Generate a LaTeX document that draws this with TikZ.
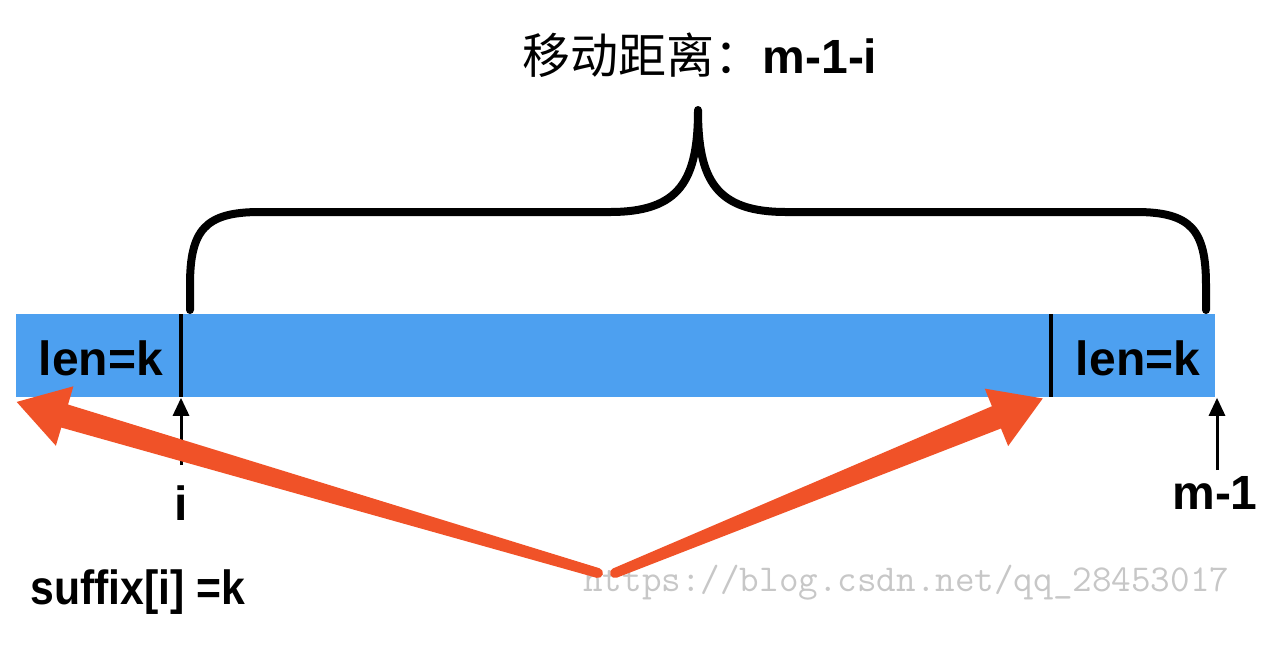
\documentclass[tikz,border=0pt]{standalone}
\usepackage{fontspec}
\setmainfont{Liberation Sans}
\newfontfamily\cjk{Noto Sans CJK SC}
\newfontfamily\narrowsans[FakeStretch=0.89]{Liberation Sans}
\usetikzlibrary{arrows.meta}
\definecolor{barblue}{RGB}{77,160,240}
\definecolor{hintred}{RGB}{240,82,40}
% tapered red arrow: tail, angle, length
\newcommand{\hintarrow}[3]{%
  \fill[hintred,shift={#1},rotate=#2] (0,-5) -- ({#3-50},-12) -- ({#3-50},-31) -- (#3,0)
    -- ({#3-50},31) -- ({#3-50},12) -- (0,5) arc[start angle=90,end angle=270,radius=5] -- cycle;
}

\begin{document}
\begin{tikzpicture}[
    x=0.5pt, y=-0.5pt,
    every node/.style={inner sep=0pt,font=\fontsize{24}{28}\selectfont\bfseries},
    bar/.style={fill=barblue,minimum width=599.5pt,minimum height=41.5pt,anchor=north west},
    cut/.style={line width=2pt},
    pointer/.style={line width=1.5pt,-{Triangle[length=9pt,width=8pt]}},
    brace/.style={line width=4pt,line cap=round,line join=round},
    watermark/.style={font=\ttfamily\fontsize{19}{22}\selectfont,text=black!22,anchor=west}
  ]
  \useasboundingbox (0,0) rectangle (1280,644);
  \node[bar] (bar) at (16,314) {};
  \node (lenL) at (101,358) {len=k};
  \node (lenR) at (1138,358) {len=k};
  \draw[cut] (181,314) -- (181,397);
  \draw[cut] (1051,314) -- (1051,397);
  % brace over the moved part
  \draw[brace] (190,310) -- (190,285) .. controls (190,230) and (205,212) .. (260,212)
    -- (610,212) .. controls (680,212) and (698,180) .. (698,110)
    .. controls (698,180) and (716,212) .. (786,212)
    -- (1136,212) .. controls (1191,212) and (1206,230) .. (1206,285) -- (1206,310);
  \node (title) at (700,55) {{\cjk\mdseries 移动距离：}m-1-i};
  % index pointers
  \coordinate (itail) at (181,465);
  \coordinate (mtail) at (1217,470);
  \node (ilabel) at (181,503) {i};
  \node (mlabel) at (1215,493) {m-1};
  \draw[pointer] (itail) -- (itail |- bar.south);
  \draw[pointer] (mtail) -- (mtail |- bar.south);
  \node[watermark] (url) at (583,583) {https://blog.csdn.net/qq\_28453017};
  \node[anchor=west,font=\fontsize{24}{28}\selectfont\bfseries\narrowsans] (suffix) at (30,592) {suffix[i] =k};
  % the two equal blocks
  \coordinate (hintL) at (598,573);
  \coordinate (hintR) at (615,573);
  \hintarrow{(hintL)}{163.6}{606}
  \hintarrow{(hintR)}{22.2}{462}
\end{tikzpicture}
\end{document}
